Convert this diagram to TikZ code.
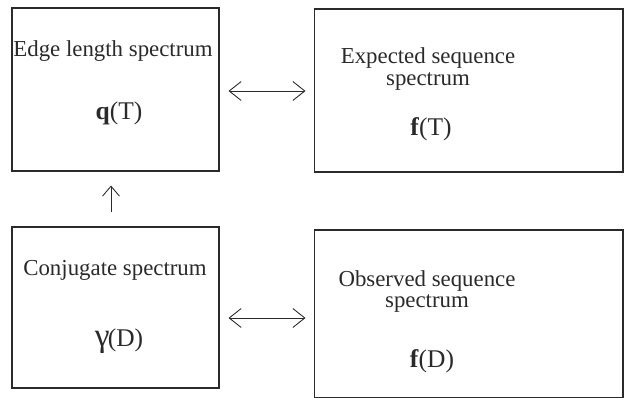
\documentclass[tikz,border=0pt]{standalone}
\usepackage{fontspec}
\setmainfont{Liberation Serif}
\usetikzlibrary{arrows.meta,positioning,calc}
\definecolor{ScanInk}{HTML}{2A2A2A}

\begin{document}
\begin{tikzpicture}[x=0.02cm,y=-0.02cm,
  panel/.style={draw=ScanInk,line width=0.6pt,inner sep=0pt},
  caption/.style={font=\fontsize{13}{12.5}\selectfont,text=ScanInk,inner sep=0pt,align=center},
  symb/.style={font=\fontsize{14.5}{16}\selectfont,text=ScanInk,inner sep=0pt},
  link/.style={{Straight Barb[length=0.24cm,width=0.38cm]}-{Straight Barb[length=0.24cm,width=0.38cm]},line width=0.5pt,ScanInk},
  rise/.style={-{Straight Barb[length=0.2cm,width=0.34cm]},line width=0.5pt,ScanInk},
]
\useasboundingbox (0,0) rectangle (625,398);
% the four spectra
\node[panel,minimum width=4.14cm,minimum height=3.26cm] (edge) at (115.5,89.5) {};
\node[panel,minimum width=6.18cm,minimum height=3.26cm] (expect) at (468.5,90.5) {};
\node[panel,minimum width=4.14cm,minimum height=3.22cm] (conj) at (115.5,307.5) {};
\node[panel,minimum width=6.18cm,minimum height=3.36cm] (observ) at (468.5,314) {};
% labels
\node[caption] (edgetxt) at (113,51) {Edge length spectrum};
\node[symb] (edgesym) at (119,113) {\textbf{q}(T)};
\node[caption] (expecttxt) at (428,69) {Expected sequence\\spectrum};
\node[symb] (expectsym) at (431,129) {\textbf{f}(T)};
\node[caption] (conjtxt) at (115,270) {Conjugate spectrum};
\node[symb] (conjsym) at (119,341) {{\fontsize{19}{20}\selectfont γ}\kern-1pt(D)};
\node[caption] (observtxt) at (427,291.5) {Observed sequence\\spectrum};
\node[symb] (observsym) at (432,361) {\textbf{f}(D)};
% connectors
\draw[link,shorten <=0.18cm,shorten >=0.16cm] ($(edge.east)+(0,1.5)$) -- ($(edge.east -| expect.west)+(0,1.5)$);
\draw[link,shorten <=0.18cm,shorten >=0.16cm] ($(conj.east)+(0,10.5)$) -- ($(conj.east -| observ.west)+(0,10.5)$);
\draw[rise,shorten <=0.28cm,shorten >=0.28cm] ($(conj.north)+(-4.5,0)$) -- ($(edge.south)+(-4.5,0)$);
\end{tikzpicture}
\end{document}
